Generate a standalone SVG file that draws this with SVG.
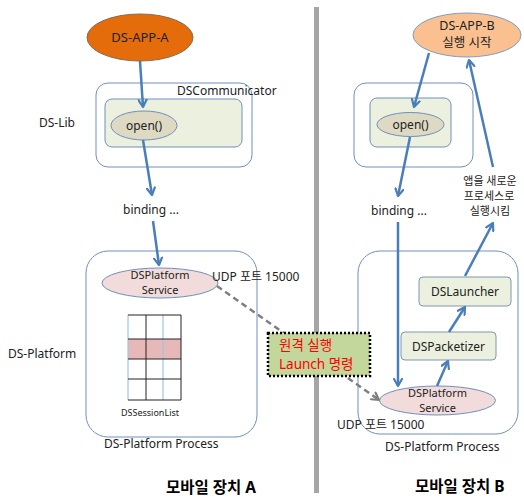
<svg xmlns="http://www.w3.org/2000/svg" width="524" height="498" viewBox="0 0 524 498">
<defs>
<marker id="ah" markerWidth="10" markerHeight="10" refX="8" refY="5" orient="auto" markerUnits="userSpaceOnUse">
<path d="M1,1 L8,5 L1,9" fill="none" stroke="#4a7ebb" stroke-width="2.2" stroke-linecap="round" stroke-linejoin="round"/>
</marker>
<marker id="ahg" markerWidth="10" markerHeight="10" refX="8" refY="5" orient="auto" markerUnits="userSpaceOnUse">
<path d="M1,1 L8,5 L1,9" fill="none" stroke="#7f7f7f" stroke-width="2.2" stroke-linecap="round" stroke-linejoin="round"/>
</marker>
<style>
text{font-family:"Noto Sans","Noto Sans CJK KR",sans-serif;font-size:12px;fill:#222;}
.c{text-anchor:middle;}
.sm{font-size:9px;}
.t2{font-size:11px;}
.b{font-weight:bold;font-size:15.5px;fill:#000;}
.red{fill:#ff0000;font-size:13.5px;}
.box{fill:#fff;stroke:#6f8fc0;stroke-width:1;}
.inner{fill:#ebf1de;stroke:#6f8fc0;stroke-width:1;}
.open{fill:#ddd9c3;stroke:#6f8fc0;stroke-width:1;}
.svc{fill:#f2dcdb;stroke:#6f8fc0;stroke-width:1;}
.comp{fill:#ebf1de;stroke:#8096b0;stroke-width:1;}
.arr{fill:none;stroke:#4a7ebb;stroke-width:2.5;marker-end:url(#ah);}
.dash{fill:none;stroke:#7f7f7f;stroke-width:2.5;stroke-dasharray:6,4;marker-end:url(#ahg);}
</style>
</defs>
<rect x="314" y="7" width="5" height="486" fill="#a6a6a6"/>
<g id="dsCommA"><rect class="box" x="96" y="83" width="156" height="84" rx="12"/><text x="177" y="95">DSCommunicator</text></g>
<g id="dsLibLabel"><text x="39" y="127">DS-Lib</text></g>
<g id="innerA"><rect class="inner" x="105" y="99" width="137" height="48" rx="7"/></g>
<g id="openA"><ellipse class="open" cx="144" cy="125.5" rx="33" ry="14.5"/><text class="c" x="144" y="130">open()</text></g>
<g id="bindingA"><text x="123" y="214">binding ...</text></g>
<g id="procA"><rect class="box" x="86" y="251" width="171" height="186" rx="22"/><text x="104" y="448">DS-Platform Process</text></g>
<g id="dsPlatformLabel"><text x="8" y="358">DS-Platform</text></g>
<g id="svcA"><ellipse class="svc" cx="160" cy="283" rx="58" ry="15"/><text class="c t2" x="160" y="279">DSPlatform</text><text class="c t2" x="160" y="294">Service</text></g>
<g id="udpA"><text x="212" y="281">UDP 포트 15000</text></g>
<g id="sessionList">
<rect x="128" y="339" width="53" height="20" fill="#e6b9b8"/>
<g stroke="#9dc3e6" stroke-width="1.2"><line x1="128" y1="315" x2="128" y2="400"/><line x1="163" y1="315" x2="163" y2="400"/></g>
<g stroke="#222" stroke-width="1"><line x1="146" y1="315" x2="146" y2="400"/><line x1="181" y1="315" x2="181" y2="400"/>
<line x1="128" y1="315" x2="181" y2="315"/><line x1="128" y1="339" x2="181" y2="339"/><line x1="128" y1="359" x2="181" y2="359"/><line x1="128" y1="379" x2="181" y2="379"/><line x1="128" y1="400" x2="181" y2="400"/></g>
<text class="c sm" x="150" y="416">DSSessionList</text>
</g>
<g id="appA"><ellipse cx="140" cy="37.5" rx="53" ry="23.5" fill="#e46c0a" stroke="#8a6a50" stroke-width="1"/><text class="c" x="140" y="42" style="font-size:13px">DS-APP-A</text></g>
<g id="titleA"><text class="b" x="166" y="493">모바일 장치 A</text></g>

<g id="commB"><rect class="box" x="354" y="83" width="119" height="84" rx="12"/></g>
<g id="innerB"><rect class="inner" x="370" y="98" width="81" height="49" rx="7"/></g>
<g id="openB"><ellipse class="open" cx="410.5" cy="124.5" rx="33.5" ry="12"/><text class="c" x="410.5" y="129">open()</text></g>
<g id="bindingB"><text x="371" y="215">binding ...</text></g>
<g id="appB"><ellipse cx="467" cy="35" rx="54" ry="22" fill="#fac090" stroke="#7f9cc4" stroke-width="1"/><text class="c" x="467" y="30" style="font-size:12.5px">DS-APP-B</text><text class="c" x="467" y="47" style="font-size:12.5px">실행 시작</text></g>
<g id="newProcText"><text class="c t2" x="490" y="185">앱을 새로운</text><text class="c t2" x="489" y="200">프로세스로</text><text class="c t2" x="490" y="215">실행시킴</text></g>
<g id="procB"><rect class="box" x="358" y="251" width="160" height="183" rx="22"/><text x="385" y="451">DS-Platform Process</text></g>
<g id="launcher"><rect class="comp" x="419" y="277" width="92" height="29" rx="4"/><text class="c" x="465" y="296">DSLauncher</text></g>
<g id="packetizer"><rect class="comp" x="401" y="332" width="95" height="28" rx="4"/><text class="c" x="448.5" y="351">DSPacketizer</text></g>
<g id="svcB"><ellipse class="svc" cx="437.5" cy="400.5" rx="58" ry="14.5"/><text class="c t2" x="437.5" y="397">DSPlatform</text><text class="c t2" x="437.5" y="412">Service</text></g>
<g id="udpB"><text x="337" y="429">UDP 포트 15000</text></g>
<g id="titleB"><text class="b" x="415" y="492">모바일 장치 B</text></g>

<g id="connectors">
<line class="arr" x1="140" y1="61" x2="143" y2="107"/>
<line class="arr" x1="143" y1="140" x2="152" y2="195"/>
<line class="arr" x1="153" y1="221" x2="159" y2="265"/>
<line class="arr" x1="429" y1="53" x2="414" y2="107"/>
<line class="arr" x1="410" y1="137" x2="398" y2="196"/>
<line class="arr" x1="398" y1="222" x2="398" y2="386"/>
<line class="arr" x1="437" y1="386" x2="448" y2="361"/>
<line class="arr" x1="449" y1="332" x2="465" y2="307"/>
<line class="arr" x1="465" y1="276" x2="493" y2="223"/>
<line class="arr" x1="493" y1="167" x2="469" y2="60"/>
<line class="dash" x1="217" y1="286" x2="379" y2="400"/>
</g>
<g id="launchCmd"><rect x="268" y="333" width="102" height="43" fill="#c3d69b" stroke="#000" stroke-width="2.5" stroke-dasharray="2,2"/><text class="red" x="279" y="350">원격 실행</text><text class="red" x="279" y="369">Launch 명령</text></g>
</svg>
